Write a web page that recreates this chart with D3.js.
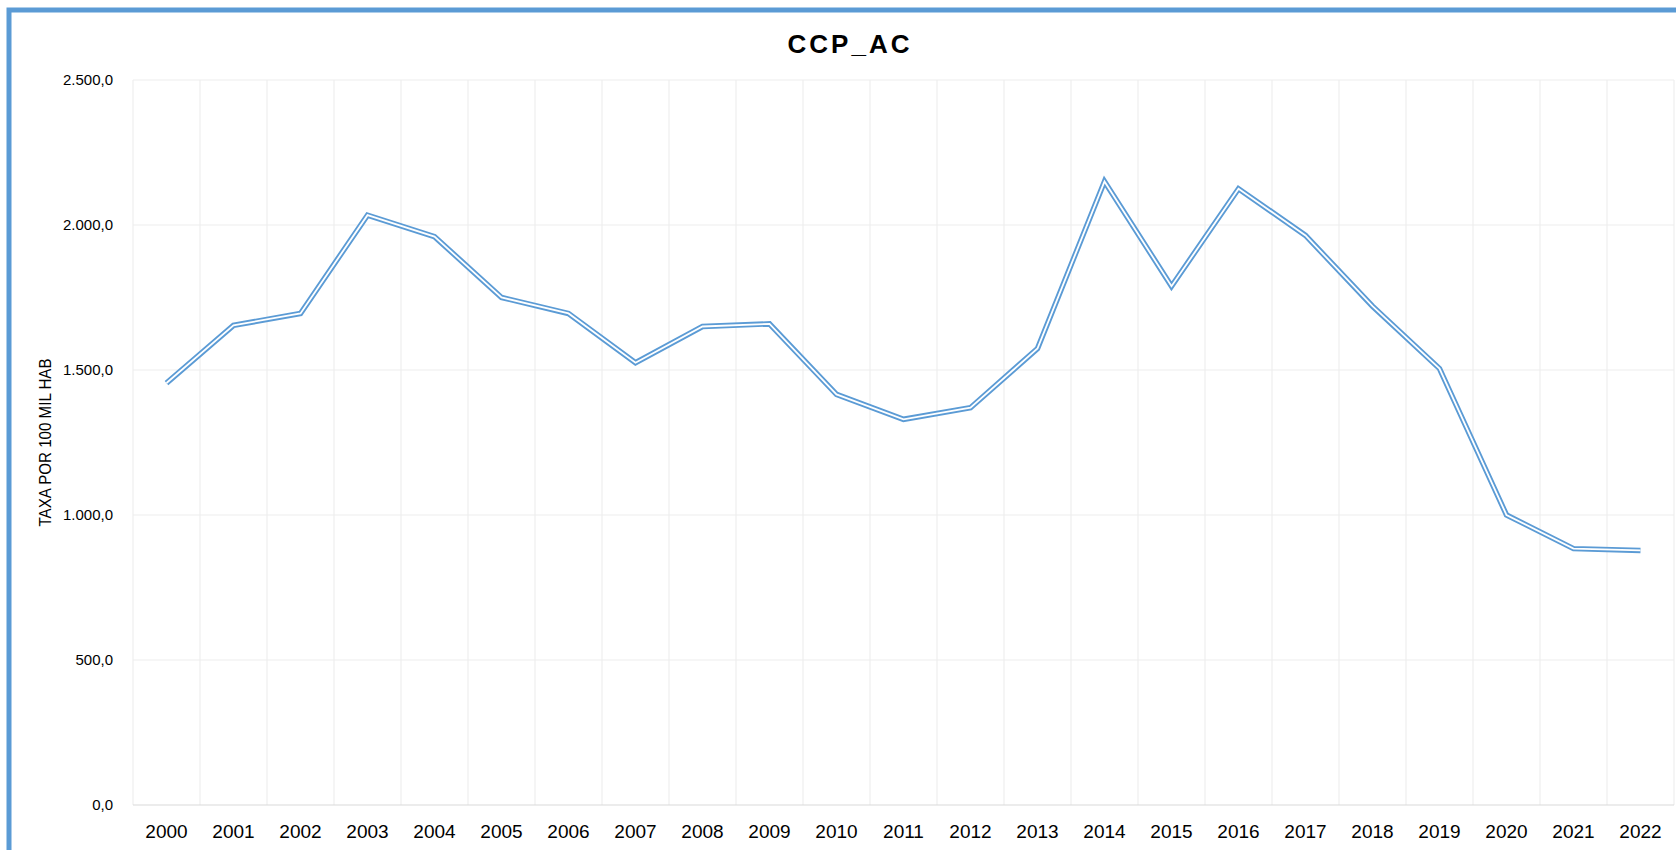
<!DOCTYPE html>
<html>
<head>
<meta charset="utf-8">
<script src="https://cdn.jsdelivr.net/npm/d3@7"></script>
<style>
  body { margin: 0; background: #fff; }
  text { font-family: "Liberation Sans", Arial, sans-serif; fill: #000; }
</style>
</head>
<body>
<svg width="1676" height="850"></svg>
<script>
var years = ["2000","2001","2002","2003","2004","2005","2006","2007","2008","2009","2010","2011",
             "2012","2013","2014","2015","2016","2017","2018","2019","2020","2021","2022"];
var taxa = [1455, 1654, 1695, 2034, 1960, 1750, 1695, 1525, 1650, 1659, 1416, 1330,
            1370, 1574, 2150, 1789, 2125, 1964, 1720, 1505, 1000, 884, 878];
var yTicks = [0, 500, 1000, 1500, 2000, 2500];

var svg = d3.select("svg"),
    width = +svg.attr("width"),
    height = +svg.attr("height");

var margin = {left: 133, right: 2, top: 80, bottom: 45};

var x = d3.scaleBand()
    .domain(years)
    .range([margin.left, width - margin.right])
    .padding(0);

var y = d3.scaleLinear()
    .domain([0, 2500])
    .range([height - margin.bottom, margin.top]);

var ptbr = d3.formatLocale({decimal: ",", thousands: ".", grouping: [3], currency: ["R$", ""]});
var fmt = ptbr.format(",.1f");

// outer border (only top and left visible)
svg.append("rect")
    .attr("x", 9).attr("y", 10)
    .attr("width", width + 20).attr("height", height + 20)
    .attr("fill", "none")
    .attr("stroke", "#5B9BD5")
    .attr("stroke-width", 5);

// horizontal gridlines
svg.append("g")
  .selectAll("line")
  .data(yTicks.slice(1))
  .enter().append("line")
    .attr("x1", margin.left).attr("x2", width - margin.right)
    .attr("y1", function(d) { return y(d); })
    .attr("y2", function(d) { return y(d); })
    .attr("stroke", "#EEEEEE")
    .attr("stroke-width", 1.2);

// vertical gridlines at category boundaries
var bounds = years.map(function(d) { return x(d); }).concat([x(years[years.length - 1]) + x.bandwidth()]);
svg.append("g")
  .selectAll("line")
  .data(bounds)
  .enter().append("line")
    .attr("x1", function(d) { return d; })
    .attr("x2", function(d) { return d; })
    .attr("y1", margin.top).attr("y2", y(0))
    .attr("stroke", "#EEEEEE")
    .attr("stroke-width", 1.2);

// baseline
svg.append("line")
    .attr("x1", margin.left).attr("x2", width - margin.right)
    .attr("y1", y(0)).attr("y2", y(0))
    .attr("stroke", "#D9D9D9")
    .attr("stroke-width", 1.2);

// y axis labels
svg.append("g")
  .selectAll("text")
  .data(yTicks)
  .enter().append("text")
    .attr("x", 113)
    .attr("y", function(d) { return y(d); })
    .attr("dy", "0.35em")
    .attr("text-anchor", "end")
    .style("font-size", "15px")
    .text(function(d) { return fmt(d); });

// x axis labels
svg.append("g")
  .selectAll("text")
  .data(years)
  .enter().append("text")
    .attr("x", function(d) { return x(d) + x.bandwidth() / 2; })
    .attr("y", 838)
    .attr("text-anchor", "middle")
    .style("font-size", "19px")
    .text(function(d) { return d; });

// y axis title
svg.append("text")
    .attr("transform", "translate(51," + ((margin.top + y(0)) / 2) + ") rotate(-90)")
    .attr("text-anchor", "middle")
    .attr("textLength", 168)
    .attr("lengthAdjust", "spacingAndGlyphs")
    .style("font-size", "16px")
    .text("TAXA POR 100 MIL HAB");

// title
svg.append("text")
    .attr("x", 850)
    .attr("y", 53)
    .attr("text-anchor", "middle")
    .style("font-size", "26px")
    .style("font-weight", "bold")
    .style("letter-spacing", "3px")
    .text("CCP_AC");

// double line: wide blue stroke with a thin white stroke on top
var line = d3.line()
    .x(function(d, i) { return x(years[i]) + x.bandwidth() / 2; })
    .y(function(d) { return y(d); });

svg.append("path")
    .datum(taxa)
    .attr("d", line)
    .attr("fill", "none")
    .attr("stroke", "#5B9BD5")
    .attr("stroke-width", 5.5);

svg.append("path")
    .datum(taxa)
    .attr("d", line)
    .attr("fill", "none")
    .attr("stroke", "#fff")
    .attr("stroke-width", 1.8);
</script>
</body>
</html>
